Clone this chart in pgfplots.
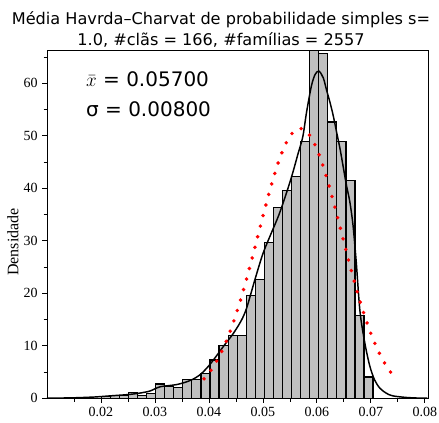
\documentclass[border=0pt]{standalone}
\usepackage{fontspec}
\setmainfont{Liberation Serif}
\newfontfamily\titlefont{DejaVu Sans}
\usepackage{pgfplots}
\pgfplotsset{compat=1.18}
\definecolor{barfill}{RGB}{192,192,192}

\begin{document}
\begin{tikzpicture}
\begin{axis}[
  scale only axis,
  width=285.75pt, height=261.1pt,
  xmin=0.01, xmax=0.0806,
  ymin=0, ymax=66.3,
  clip=false,
  axis line style={line width=0.5pt},
  xtick={0.02,0.03,0.04,0.05,0.06,0.07,0.08},
  minor xtick={0.015,0.025,0.035,0.045,0.055,0.065,0.075},
  ytick={0,10,20,30,40,50,60},
  minor ytick={5,15,25,35,45,55,65},
  xtick pos=left, ytick pos=left,
  tick align=outside,
  major tick length=3.5pt, minor tick length=2.5pt,
  every tick/.style={black, line width=0.5pt},
  scaled x ticks=false,
  xticklabel style={/pgf/number format/.cd, fixed, fixed zerofill, precision=2},
  /pgf/number format/assume math mode=true,
  tick label style={font=\fontsize{10.5}{12}\selectfont},
]

% histogram: bin left edges and densities, last entry closes the final bin
\addplot[ybar interval, fill=barfill, draw=black, line width=0.9pt] coordinates {
  (0.020062,0.3) (0.021741,0.6) (0.023420,0.6) (0.025098,1.1) (0.026777,0.6)
  (0.028456,0.95) (0.030135,2.7) (0.031814,2.2) (0.033492,2.0) (0.035171,3.5)
  (0.036850,3.5) (0.038529,4.7) (0.040208,7.3) (0.041886,10.1) (0.043565,11.9)
  (0.045244,11.9) (0.046923,19.5) (0.048602,22.6) (0.050280,29.6) (0.051959,36.3)
  (0.053638,39.5) (0.055317,42.3) (0.056996,48.9) (0.058674,66.3) (0.060353,65.6)
  (0.062032,52.6) (0.063711,48.9) (0.065390,41.4) (0.067068,15.7) (0.068747,4.06)
  (0.070426,0)
};

% kernel density estimate
\addplot[black, line width=1.1pt, smooth] coordinates {
  (0.0100,0.02) (0.0130,0.05) (0.0160,0.12) (0.0190,0.25) (0.0210,0.4)
  (0.0230,0.55) (0.0250,0.7) (0.0270,0.95) (0.0290,1.35) (0.0300,1.8)
  (0.0310,2.2) (0.0325,2.4) (0.0340,2.6) (0.0355,3.0) (0.0370,3.6)
  (0.0385,4.6) (0.0400,6.2) (0.0415,8.2) (0.0430,10.3) (0.0445,12.3)
  (0.0460,14.8) (0.0470,17.2) (0.0485,22.5) (0.0500,27.5) (0.0515,31.3)
  (0.0530,35.0) (0.0545,39.5) (0.0555,42.8) (0.0565,46.5) (0.0574,49.8)
  (0.0581,54.5) (0.0590,59.5) (0.0597,61.7) (0.0604,62.3) (0.0612,61.0)
  (0.0618,58.7) (0.0624,56.5) (0.0630,54.0) (0.0636,51.0) (0.0643,47.5)
  (0.0649,44.0) (0.0655,40.5) (0.0661,37.5) (0.0667,33.0) (0.0673,26.0)
  (0.0680,16.5) (0.0689,10.5) (0.0698,6.2) (0.0707,3.5) (0.0717,1.9)
  (0.0729,0.95) (0.0741,0.45) (0.0766,0.15) (0.0785,0.05) (0.0805,0.02)
};

% fitted normal density
\addplot[red, line width=2.9pt, line cap=round, dash pattern=on 0pt off 8.2pt, smooth] coordinates {
  (0.0391,3.704) (0.0402125,5.092) (0.041325,6.860) (0.0424375,9.055)
  (0.04355,11.70) (0.0446625,14.83) (0.045775,18.40) (0.0468875,22.36)
  (0.0480,26.64) (0.0491125,31.07) (0.050225,35.51) (0.0513375,39.76)
  (0.05245,43.62) (0.0535625,46.87) (0.054675,49.34) (0.0557875,50.88)
  (0.0569,51.41)
  (0.0580125,50.88) (0.059125,49.34) (0.0602375,46.87) (0.06135,43.62)
  (0.0624625,39.76) (0.063575,35.51) (0.0646875,31.07) (0.0658,26.64)
  (0.0669125,22.36) (0.068025,18.40) (0.0691375,14.83) (0.07025,11.70)
  (0.0713625,9.055) (0.072475,6.860) (0.0735875,5.092) (0.0747,3.704)
};

\node[anchor=base west, inner sep=0pt, font=\titlefont\fontsize{15}{18}\selectfont] at (axis cs:0.0172,59.3) {$\bar{x}$ = 0.05700};
\node[anchor=base west, inner sep=0pt, font=\titlefont\fontsize{15}{18}\selectfont] at (axis cs:0.0172,53.6) {σ = 0.00800};

\node[anchor=base, inner sep=0pt, font=\titlefont\fontsize{12.1}{14}\selectfont] at ([yshift=19.2pt]rel axis cs:0.4567,1) {Média Havrda–Charvat de probabilidade simples s=};
\node[anchor=base, inner sep=0pt, font=\titlefont\fontsize{12.1}{14}\selectfont] at ([yshift=3.4pt]rel axis cs:0.4567,1) {1.0, \#clãs = 166, \#famílias = 2557};

\node[xshift=-25.5pt, rotate=90, inner sep=0pt, font=\fontsize{12}{14}\selectfont] at (rel axis cs:0,0.449) {Densidade};
\end{axis}
\pgfresetboundingbox
\path[use as bounding box] (-35.25pt,-18.5pt) rectangle (294pt,298.7pt);
\end{tikzpicture}
\end{document}
